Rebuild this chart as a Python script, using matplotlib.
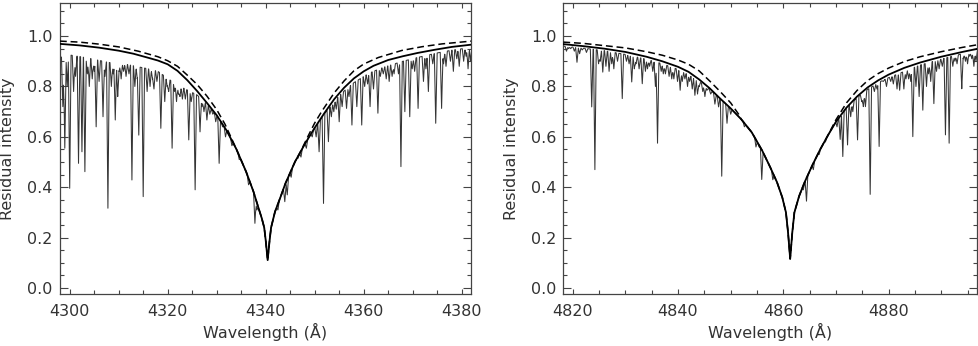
import numpy as np
import matplotlib
matplotlib.use("Agg")
import matplotlib.pyplot as plt
from matplotlib.ticker import MultipleLocator, FormatStrFormatter

# ---- H-gamma panel ----
g_wl = [4298.0, 4302.0, 4306.0, 4310.0, 4313.0, 4316.0, 4318.0, 4320.0, 4322.0,
        4324.0, 4326.0, 4328.0, 4330.0, 4332.0, 4334.0, 4336.0, 4337.5, 4338.5,
        4339.2, 4339.7, 4340.0, 4340.4, 4340.8, 4341.1, 4341.9, 4343.0, 4344.0,
        4346.0, 4348.0, 4350.0, 4352.0, 4354.0, 4356.0, 4358.0, 4360.0, 4362.0,
        4365.0, 4368.0, 4371.0, 4374.6, 4378.0, 4382.0]
g_solid = [0.969, 0.963, 0.954, 0.942, 0.930, 0.914, 0.903, 0.888, 0.862,
           0.825, 0.782, 0.735, 0.686, 0.626, 0.552, 0.462, 0.383, 0.320,
           0.277, 0.240, 0.190, 0.111, 0.190, 0.240, 0.303, 0.360, 0.414,
           0.502, 0.572, 0.636, 0.695, 0.750, 0.795, 0.832, 0.860, 0.882,
           0.905, 0.920, 0.933, 0.946, 0.957, 0.966]
g_dash_wl = [4298.0, 4302.0, 4306.0, 4310.0, 4314.0, 4318.0, 4320.0, 4322.0, 4324.0,
             4326.0, 4328.0, 4330.0, 4331.7, 4333.0, 4334.0, 4336.0, 4337.5,
             4338.5, 4339.2, 4339.7, 4340.0, 4340.4, 4340.8, 4341.1, 4341.9, 4343.0,
             4344.0, 4346.0, 4347.0, 4348.7, 4350.0, 4351.4, 4354.0, 4356.0, 4358.0,
             4360.0, 4363.0, 4367.8, 4372.0, 4376.0, 4382.0]
g_dash = [0.980, 0.976, 0.968, 0.957, 0.940, 0.918, 0.902, 0.880, 0.845,
          0.808, 0.762, 0.708, 0.650, 0.595, 0.552, 0.462, 0.383,
          0.320, 0.277, 0.240, 0.190, 0.111, 0.190, 0.240, 0.303, 0.360,
          0.414, 0.502, 0.537, 0.605, 0.655, 0.700, 0.775, 0.822, 0.862,
          0.889, 0.915, 0.943, 0.958, 0.969, 0.980]
# upper envelope of the observed spectrum
g_env_wl = [4298.0, 4300.0, 4304.0, 4308.0, 4311.0, 4316.0, 4318.0, 4321.6, 4323.6,
            4326.0, 4328.0, 4330.0, 4332.0, 4334.0, 4336.0, 4337.5, 4338.5, 4339.2,
            4339.7, 4340.0, 4340.4, 4340.8, 4341.1, 4341.9, 4343.0, 4344.0, 4346.0,
            4348.0, 4350.0, 4352.0, 4354.0, 4356.0, 4358.0, 4361.0, 4364.0, 4368.0,
            4371.0, 4375.0, 4378.0, 4382.0]
g_env = [0.915, 0.925, 0.912, 0.895, 0.890, 0.870, 0.860, 0.810, 0.790,
         0.766, 0.730, 0.686, 0.626, 0.552, 0.462, 0.383, 0.320, 0.277,
         0.240, 0.190, 0.111, 0.190, 0.240, 0.303, 0.360, 0.414, 0.502,
         0.572, 0.636, 0.692, 0.742, 0.782, 0.815, 0.852, 0.876, 0.900,
         0.915, 0.933, 0.944, 0.955]
g_line_wl = [4298.6, 4299.0, 4299.5, 4300.0, 4300.8, 4301.2, 4301.8, 4302.5, 4303.1,
             4303.6, 4304.0, 4304.6, 4305.0, 4305.4, 4306.0, 4306.8, 4307.2, 4307.8,
             4308.5, 4308.9, 4309.3, 4309.8, 4310.1, 4310.5, 4311.0, 4311.5, 4312.1,
             4312.7, 4313.3, 4313.8, 4314.1, 4315.0, 4315.8, 4316.4, 4316.9, 4317.2,
             4317.8, 4318.6, 4319.4, 4319.9, 4320.2, 4320.9, 4321.4, 4321.8, 4322.2,
             4322.5, 4323.0, 4323.6, 4324.3, 4324.8, 4325.6, 4326.6, 4327.0, 4327.4,
             4328.0, 4328.6, 4329.2, 4329.8, 4330.5, 4331.2, 4331.8, 4333.1, 4334.6,
             4336.5, 4337.8, 4338.2, 4342.5, 4343.9, 4344.4, 4345.2, 4346.6, 4347.2,
             4348.3, 4349.5, 4350.3, 4350.9, 4351.8, 4352.8, 4353.4, 4353.9, 4354.4,
             4355.0, 4355.6, 4356.5, 4357.0, 4357.6, 4358.6, 4359.6, 4360.2, 4360.8,
             4361.3, 4362.0, 4362.9, 4363.4, 4364.0, 4364.6, 4365.2, 4365.8, 4366.2,
             4367.1, 4367.6, 4368.4, 4369.4, 4369.9, 4370.4, 4371.1, 4372.2, 4372.7,
             4373.2, 4374.1, 4374.7, 4375.9, 4376.3, 4376.8, 4377.7, 4378.3, 4379.0,
             4379.5, 4380.4, 4380.9, 4381.3, 4381.8]
g_line_min = [0.72, 0.555, 0.80, 0.396, 0.78, 0.84, 0.495, 0.541, 0.462,
              0.85, 0.80, 0.83, 0.86, 0.64, 0.82, 0.68, 0.84, 0.317,
              0.80, 0.85, 0.667, 0.76, 0.86, 0.83, 0.86, 0.84, 0.85,
              0.429, 0.80, 0.83, 0.607, 0.363, 0.78, 0.80, 0.83, 0.79,
              0.82, 0.634, 0.74, 0.80, 0.78, 0.555, 0.78, 0.74, 0.77,
              0.76, 0.75, 0.75, 0.588, 0.74, 0.39, 0.62, 0.72, 0.70,
              0.667, 0.69, 0.69, 0.66, 0.495, 0.64, 0.60, 0.565, 0.51,
              0.41, 0.257, 0.31, 0.31, 0.343, 0.37, 0.44, 0.515, 0.52,
              0.555, 0.60, 0.60, 0.541, 0.336, 0.581, 0.68, 0.70, 0.71,
              0.66, 0.72, 0.713, 0.76, 0.647, 0.72, 0.647, 0.80, 0.81,
              0.72, 0.79, 0.694, 0.84, 0.85, 0.83, 0.82, 0.84, 0.85,
              0.85, 0.482, 0.70, 0.68, 0.87, 0.86, 0.713, 0.82, 0.87,
              0.78, 0.89, 0.654, 0.713, 0.89, 0.88, 0.90, 0.86, 0.91,
              0.88, 0.90, 0.92, 0.87, 0.90]

# ---- H-beta panel ----
b_wl = [4818.2, 4822.0, 4826.0, 4830.0, 4834.0, 4837.0, 4840.0, 4842.0, 4844.0,
        4846.0, 4848.0, 4850.0, 4852.0, 4854.0, 4856.0, 4857.5, 4858.8, 4859.8,
        4860.5, 4860.9, 4861.3, 4861.7, 4862.1, 4863.0, 4864.0, 4865.5, 4867.0,
        4868.5, 4870.0, 4872.0, 4874.0, 4876.0, 4878.0, 4880.0, 4883.0, 4886.0,
        4890.0, 4894.0, 4897.0]
b_solid = [0.968, 0.960, 0.950, 0.937, 0.918, 0.900, 0.878, 0.858, 0.828,
           0.793, 0.752, 0.713, 0.670, 0.618, 0.545, 0.480, 0.420, 0.360,
           0.300, 0.220, 0.116, 0.220, 0.300, 0.365, 0.418, 0.487, 0.550,
           0.607, 0.660, 0.716, 0.760, 0.796, 0.824, 0.847, 0.874, 0.895,
           0.918, 0.937, 0.950]
b_dash_wl = [4818.2, 4822.0, 4826.0, 4830.0, 4834.0, 4837.0, 4840.0, 4842.0, 4844.0,
             4846.0, 4848.0, 4850.0, 4851.5, 4852.0, 4854.0, 4856.0, 4857.5, 4858.8,
             4859.8, 4860.5, 4860.9, 4861.3, 4861.7, 4862.1, 4863.0, 4864.0, 4865.5,
             4867.0, 4868.5, 4870.0, 4872.0, 4874.0, 4876.0, 4878.0, 4880.0, 4883.0,
             4886.0, 4890.0, 4894.0, 4897.0]
b_dash = [0.976, 0.971, 0.962, 0.953, 0.938, 0.924, 0.905, 0.888, 0.862,
          0.822, 0.780, 0.735, 0.690, 0.670, 0.618, 0.545, 0.480, 0.420,
          0.360, 0.300, 0.220, 0.116, 0.220, 0.300, 0.365, 0.418, 0.487,
          0.550, 0.607, 0.668, 0.735, 0.784, 0.823, 0.851, 0.873, 0.899,
          0.918, 0.938, 0.955, 0.966]
b_env_wl = [4818.2, 4822.0, 4826.0, 4830.0, 4834.0, 4837.0, 4840.0, 4842.0, 4844.0,
            4846.0, 4848.0, 4850.0, 4852.0, 4854.0, 4856.0, 4857.5, 4858.8, 4859.8,
            4860.5, 4860.9, 4861.3, 4861.7, 4862.1, 4863.0, 4864.0, 4865.5, 4867.0,
            4868.5, 4870.0, 4872.0, 4874.0, 4876.0, 4878.0, 4880.0, 4883.0, 4886.0,
            4889.4, 4893.0, 4897.0]
b_env = [0.960, 0.952, 0.942, 0.927, 0.908, 0.890, 0.868, 0.848, 0.820,
         0.788, 0.752, 0.713, 0.670, 0.618, 0.545, 0.480, 0.420, 0.360,
         0.300, 0.220, 0.116, 0.220, 0.300, 0.365, 0.418, 0.487, 0.550,
         0.607, 0.660, 0.716, 0.755, 0.788, 0.815, 0.835, 0.860, 0.885,
         0.905, 0.925, 0.940]
b_line_wl = [4818.8, 4819.2, 4819.6, 4820.3, 4820.8, 4821.3, 4821.8, 4822.6, 4823.6,
             4824.2, 4824.9, 4825.2, 4825.7, 4826.3, 4826.9, 4827.4, 4827.8, 4828.5,
             4829.4, 4830.2, 4830.7, 4831.2, 4831.7, 4832.0, 4832.6, 4833.2, 4833.8,
             4834.2, 4834.6, 4835.2, 4835.7, 4836.1, 4836.8, 4837.2, 4837.6, 4838.3,
             4838.8, 4839.2, 4839.9, 4840.4, 4840.8, 4841.3, 4841.8, 4842.2, 4842.7,
             4843.2, 4843.7, 4844.0, 4844.7, 4845.1, 4845.5, 4846.2, 4847.0, 4847.7,
             4848.3, 4849.3, 4850.0, 4852.6, 4854.8, 4855.4, 4855.9, 4858.0, 4863.8,
             4864.4, 4865.7, 4866.8, 4868.0, 4869.2, 4870.2, 4870.8, 4871.3, 4872.2,
             4872.8, 4873.2, 4874.1, 4874.9, 4875.2, 4875.6, 4876.5, 4877.3, 4877.8,
             4878.2, 4879.0, 4879.6, 4880.4, 4880.9, 4881.6, 4882.1, 4882.9, 4883.3,
             4883.8, 4884.2, 4884.6, 4885.2, 4885.8, 4886.5, 4887.2, 4887.6, 4888.0,
             4888.6, 4889.1, 4889.6, 4890.2, 4890.8, 4891.5, 4892.2, 4892.6, 4893.0,
             4893.9, 4894.2, 4894.6, 4895.0, 4895.4, 4895.8, 4896.2, 4896.6]
b_line_min = [0.94, 0.95, 0.95, 0.94, 0.896, 0.93, 0.945, 0.935, 0.719,
              0.47, 0.89, 0.90, 0.857, 0.88, 0.86, 0.89, 0.87, 0.90,
              0.752, 0.90, 0.89, 0.818, 0.87, 0.89, 0.87, 0.811, 0.86,
              0.87, 0.88, 0.86, 0.80, 0.575, 0.86, 0.85, 0.85, 0.84,
              0.83, 0.83, 0.82, 0.785, 0.82, 0.83, 0.80, 0.82, 0.79,
              0.765, 0.77, 0.80, 0.78, 0.76, 0.785, 0.77, 0.73, 0.719,
              0.444, 0.654, 0.69, 0.64, 0.56, 0.56, 0.431, 0.43, 0.39,
              0.345, 0.47, 0.53, 0.58, 0.63, 0.64, 0.59, 0.522, 0.568,
              0.68, 0.70, 0.588, 0.74, 0.72, 0.72, 0.372, 0.78, 0.79,
              0.562, 0.82, 0.80, 0.82, 0.81, 0.79, 0.785, 0.79, 0.83,
              0.83, 0.82, 0.601, 0.80, 0.76, 0.706, 0.80, 0.85, 0.82,
              0.732, 0.86, 0.87, 0.88, 0.608, 0.575, 0.88, 0.90, 0.89,
              0.791, 0.91, 0.90, 0.89, 0.92, 0.91, 0.88, 0.90]


def spectrum(env_wl, env, line_wl, line_min, w):
    # vertices: envelope points plus a V for every absorption line;
    # where lines overlap the lowest one wins
    env_wl = np.asarray(env_wl)
    env = np.asarray(env)
    lwl = np.asarray(line_wl)
    lmin = np.asarray(line_min)
    xs = np.concatenate([env_wl, lwl - w, lwl, lwl + w])
    xs = np.sort(np.unique(np.clip(xs, env_wl[0], env_wl[-1])))
    top = np.interp(xs, env_wl, env)
    ys = top.copy()
    for c, m in zip(lwl, lmin):
        d = np.abs(xs - c)
        inside = d < w
        v = m + (top - m) * d / w
        ys[inside] = np.minimum(ys[inside], v[inside])
    return xs, ys


fig = plt.figure(figsize=(9.79, 3.46), dpi=100)
W, H = 979.0, 346.0
ax1 = fig.add_axes([59.7 / W, 51.7 / H, 411.3 / W, 291.0 / H])
ax2 = fig.add_axes([563.3 / W, 51.7 / H, 414.0 / W, 291.0 / H])

panels = [
    (ax1, g_wl, g_solid, g_dash_wl, g_dash, g_env_wl, g_env, g_line_wl, g_line_min,
     (4297.96, 4381.9), 0.28),
    (ax2, b_wl, b_solid, b_dash_wl, b_dash, b_env_wl, b_env, b_line_wl, b_line_min,
     (4818.2, 4896.85), 0.26),
]

txt = "#333333"
for ax, wl, sol, dwl, dsh, ewl, env, lwl, lmin, xl, w in panels:
    sx, sy = spectrum(ewl, env, lwl, lmin, w)
    ax.plot(sx, sy, color="#353535", lw=0.75, zorder=2)
    ax.plot(wl, sol, color="black", lw=1.3, zorder=3)
    ax.plot(dwl, dsh, color="black", lw=1.1, dashes=(4.5, 2.5), zorder=3)

    ax.set_xlim(*xl)
    ax.set_ylim(-0.0246, 1.130)
    ax.xaxis.set_major_locator(MultipleLocator(20))
    ax.xaxis.set_minor_locator(MultipleLocator(5))
    ax.yaxis.set_major_locator(MultipleLocator(0.2))
    ax.yaxis.set_minor_locator(MultipleLocator(0.05))
    ax.yaxis.set_major_formatter(FormatStrFormatter("%.1f"))
    ax.tick_params(which="both", direction="in", top=True, right=True,
                   colors="#444444", labelcolor=txt, labelsize=11.5, width=0.8)
    ax.tick_params(axis="y", which="major", length=5.8, pad=5)
    ax.tick_params(axis="y", which="minor", length=2.9)
    ax.tick_params(axis="x", which="major", length=3.6, pad=7)
    ax.tick_params(axis="x", which="minor", length=2.9)
    for sp in ax.spines.values():
        sp.set_color("#444444")
        sp.set_linewidth(0.9)

    ax.set_xlabel("Wavelength (Å)", fontsize=11.5, color=txt)
    ax.set_ylabel("Residual intensity", fontsize=11.5, color=txt)
    ax.xaxis.set_label_coords(0.5, -0.098)
    ax.yaxis.set_label_coords(-0.108, 0.5)

fig.savefig("out.png", dpi=100)
